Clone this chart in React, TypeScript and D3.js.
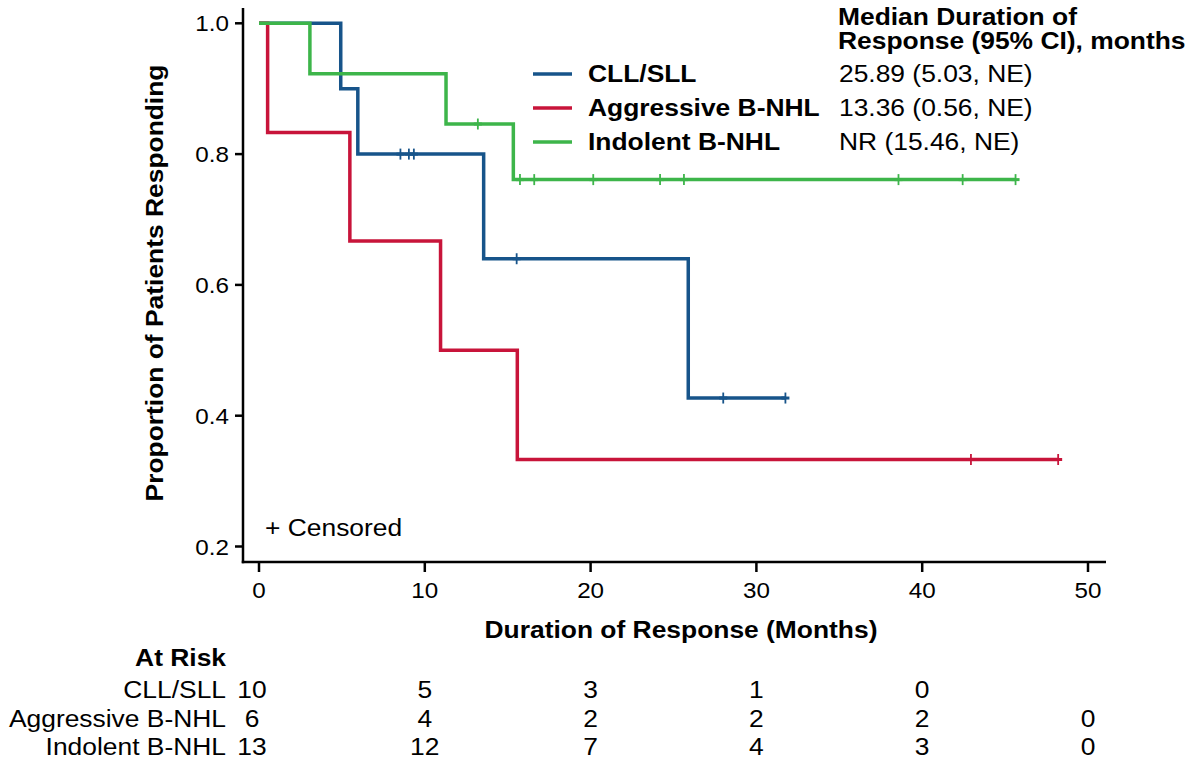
import React from "react";
import * as d3 from "d3";

// ---------- data ----------
const groups = ["CLL/SLL", "Aggressive B-NHL", "Indolent B-NHL"];
const medians = ["25.89 (5.03, NE)", "13.36 (0.56, NE)", "NR (15.46, NE)"];
const colors = ["#17548a", "#c8143a", "#3db54a"];

// step points (time in months, proportion responding)
const cllTimes = [0, 4.93, 5.96, 13.55, 25.89, 31.75];
const cllSurv = [1.0, 0.9, 0.8, 0.64, 0.427, 0.427];
const cllCensor = [8.53, 9.04, 9.34, 15.54, 28.0, 31.75];

const aggTimes = [0, 0.52, 5.48, 10.95, 15.58, 48.2];
const aggSurv = [1.0, 0.833, 0.667, 0.5, 0.333, 0.333];
const aggCensor = [42.94, 48.2];

const indTimes = [0, 3.07, 11.28, 15.34, 45.63];
const indSurv = [1.0, 0.923, 0.846, 0.761, 0.761];
const indCensor = [13.2, 15.74, 16.6, 20.16, 24.19, 25.63, 38.57, 42.44, 45.63];

const xTicks = [0, 10, 20, 30, 40, 50];
const yTicks = [0.2, 0.4, 0.6, 0.8, 1.0];
const yTickLabels = ["0.2", "0.4", "0.6", "0.8", "1.0"];

const atRiskTimes = [0, 10, 20, 30, 40, 50];
const cllRisk = [10, 5, 3, 1, 0, null];
const aggRisk = [6, 4, 2, 2, 2, 0];
const indRisk = [13, 12, 7, 4, 3, 0];

// ---------- layout ----------
const W = 1192;
const H = 765;
const FONT = "'Liberation Sans', Arial, Helvetica, sans-serif";
const SX = 1.1;

const x = d3.scaleLinear().domain([0, 50]).range([259, 1088]);
const y = d3.scaleLinear().domain([0.2, 1.0]).range([546.5, 23.3]);

const axisLeftX = 243;
const axisBottomY = 562;
const xAxisEnd = 1106;
const yAxisTop = 8;

type TProps = {
  x: number;
  y: number;
  anchor?: "start" | "middle" | "end";
  bold?: boolean;
  size?: number;
  rotate?: number;
  children: React.ReactNode;
};

function T({ x, y, anchor = "start", bold = false, size = 24, rotate = 0, children }: TProps) {
  return (
    <text
      transform={`translate(${x},${y}) rotate(${rotate}) scale(${SX},1)`}
      textAnchor={anchor}
      fontFamily={FONT}
      fontWeight={bold ? "bold" : "normal"}
      fontSize={size}
      fill="#000"
    >
      {children}
    </text>
  );
}

function stepValue(times: number[], surv: number[], t: number) {
  let v = surv[0];
  for (let i = 0; i < times.length; i++) if (times[i] <= t) v = surv[i];
  return v;
}

export default function App() {
  const series = [
    { times: cllTimes, surv: cllSurv, censor: cllCensor, color: colors[0] },
    { times: aggTimes, surv: aggSurv, censor: aggCensor, color: colors[1] },
    { times: indTimes, surv: indSurv, censor: indCensor, color: colors[2] },
  ];
  const line = d3
    .line<[number, number]>()
    .x((d) => x(d[0]))
    .y((d) => y(d[1]))
    .curve(d3.curveStepAfter);

  const risks = [cllRisk, aggRisk, indRisk];
  const riskRowY = [698, 727, 755];
  const legendY = [74, 108, 142];

  return (
    <svg
      width={W}
      height={H}
      viewBox={`0 0 ${W} ${H}`}
      style={{ position: "absolute", left: 0, top: 0, background: "#fff" }}
    >
      <rect x={0} y={0} width={W} height={H} fill="#fff" />

      {/* axes */}
      <line x1={axisLeftX} x2={axisLeftX} y1={yAxisTop} y2={axisBottomY + 1.25} stroke="#000" strokeWidth={2.5} />
      <line x1={axisLeftX - 1.25} x2={xAxisEnd} y1={axisBottomY} y2={axisBottomY} stroke="#000" strokeWidth={2.5} />
      {yTicks.map((t, i) => (
        <g key={"yt" + i}>
          <line x1={axisLeftX - 8} x2={axisLeftX} y1={y(t)} y2={y(t)} stroke="#000" strokeWidth={2.5} />
          <T x={axisLeftX - 14} y={y(t) + 8} anchor="end" size={22}>
            {yTickLabels[i]}
          </T>
        </g>
      ))}
      {xTicks.map((t) => (
        <g key={"xt" + t}>
          <line x1={x(t)} x2={x(t)} y1={axisBottomY} y2={axisBottomY + 10} stroke="#000" strokeWidth={2.5} />
          <T x={x(t)} y={598} anchor="middle" size={22}>
            {String(t)}
          </T>
        </g>
      ))}

      <T x={681} y={638} anchor="middle" bold>
        Duration of Response (Months)
      </T>
      <T x={163} y={283} anchor="middle" bold rotate={-90}>
        Proportion of Patients Responding
      </T>

      {/* curves */}
      {series.map((s, i) => (
        <g key={"s" + i}>
          <path
            d={line(s.times.map((t, j) => [t, s.surv[j]] as [number, number])) || ""}
            fill="none"
            stroke={s.color}
            strokeWidth={3.5}
            strokeLinejoin="miter"
          />
          {s.censor.map((c, j) => {
            const cx = x(c);
            const cy = y(stepValue(s.times, s.surv, c));
            return (
              <g key={"c" + j} stroke={s.color} strokeWidth={1.8}>
                <line x1={cx} x2={cx} y1={cy - 5.5} y2={cy + 5.5} />
                <line x1={cx - 4} x2={cx + 4} y1={cy} y2={cy} strokeWidth={3} />
              </g>
            );
          })}
        </g>
      ))}

      {/* censored note */}
      <T x={265} y={536}>+ Censored</T>

      {/* legend */}
      <T x={838} y={25} bold>Median Duration of</T>
      <T x={838} y={49} bold>Response (95% CI), months</T>
      {groups.map((g, i) => (
        <g key={"lg" + i}>
          <line x1={533} x2={572} y1={legendY[i]} y2={legendY[i]} stroke={colors[i]} strokeWidth={3.5} />
          <T x={588} y={legendY[i] + 8} bold>{g}</T>
          <T x={839} y={legendY[i] + 8}>{medians[i]}</T>
        </g>
      ))}

      {/* at risk table */}
      <T x={226} y={666} anchor="end" bold>At Risk</T>
      {groups.map((g, i) => (
        <g key={"ar" + i}>
          <T x={226} y={riskRowY[i]} anchor="end">{g}</T>
          {atRiskTimes.map((t, j) =>
            risks[i][j] === null ? null : (
              <T key={"n" + j} x={x(t) - (j === 0 ? 7 : 0)} y={riskRowY[i]} anchor="middle">
                {String(risks[i][j])}
              </T>
            )
          )}
        </g>
      ))}
    </svg>
  );
}
